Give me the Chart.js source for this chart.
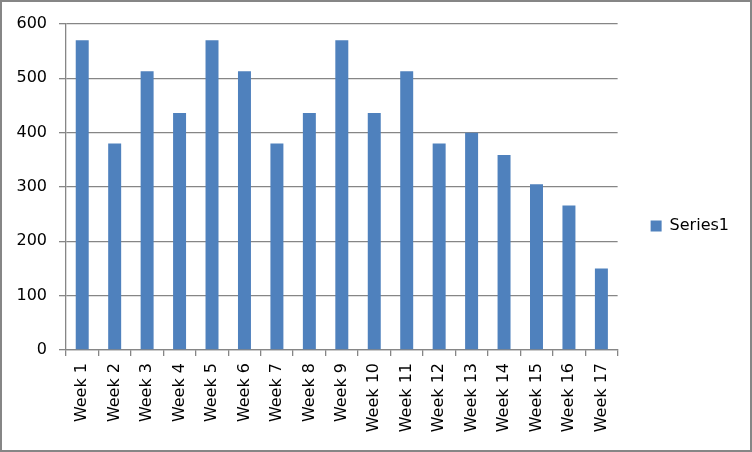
<!DOCTYPE html>
<html>
<head>
<meta charset="utf-8">
<script src="https://cdn.jsdelivr.net/npm/chart.js@4/dist/chart.umd.min.js"></script>
<style>
  html, body { margin: 0; padding: 0; background: #fff; }
  #wrap { width: 752px; height: 452px; position: relative; }
</style>
</head>
<body>
<div id="wrap"><canvas id="c" width="752" height="452"></canvas></div>
<script>
const categories = ["Week 1","Week 2","Week 3","Week 4","Week 5","Week 6","Week 7","Week 8","Week 9","Week 10","Week 11","Week 12","Week 13","Week 14","Week 15","Week 16","Week 17"];
const series1 = [570, 380, 513, 436, 570, 513, 380, 436, 570, 436, 513, 380, 400, 359, 305, 266, 150];
const seriesName = "Series1";
const yMin = 0, yMax = 600, yStep = 100;

const FONT = { family: "'DejaVu Sans', sans-serif", size: 16 };
const GRAY = '#868686';
const BAR = '#4F81BD';

const borderPlugin = {
  id: 'outerBorder',
  afterLayout(chart) {
    // centre the legend on the whole canvas height, like the original
    if (chart.legend) {
      chart.legend.top = 0;
      chart.legend.bottom = chart.height;
      chart.legend.height = chart.height;
    }
  },
  afterDraw(chart) {
    const ctx = chart.ctx;
    ctx.save();
    ctx.strokeStyle = GRAY;
    ctx.lineWidth = 2;
    ctx.strokeRect(1, 1, chart.width - 2, chart.height - 2);
    ctx.restore();
  }
};

new Chart(document.getElementById('c'), {
  type: 'bar',
  data: {
    labels: categories,
    datasets: [{
      label: seriesName,
      data: series1,
      backgroundColor: BAR,
      borderWidth: 0,
      barPercentage: 0.4,
      categoryPercentage: 1.0
    }]
  },
  options: {
    responsive: false,
    devicePixelRatio: 1,
    animation: false,
    layout: { padding: { top: 24, right: 13, bottom: 0, left: 0 } },
    plugins: {
      legend: {
        position: 'right',
        labels: {
          boxWidth: 11,
          boxHeight: 11,
          padding: 33,
          color: '#000',
          font: FONT
        }
      },
      tooltip: { enabled: false }
    },
    scales: {
      x: {
        offset: true,
        grid: {
          offset: true,
          drawOnChartArea: false,
          drawTicks: true,
          tickLength: 6,
          color: GRAY,
          lineWidth: 1.3
        },
        border: { display: true, color: GRAY, width: 1.3 },
        ticks: {
          autoSkip: false,
          minRotation: 90,
          maxRotation: 90,
          padding: 7,
          color: '#000',
          font: FONT
        },
        afterFit(scale) { scale.height = 102; }
      },
      y: {
        min: yMin,
        max: yMax,
        ticks: {
          stepSize: yStep,
          padding: 12,
          color: '#000',
          font: FONT
        },
        grid: {
          color: GRAY,
          lineWidth: 1.3,
          drawTicks: true,
          tickLength: 7
        },
        border: { display: true, color: GRAY, width: 1.3 },
        afterFit(scale) { scale.width = 66; }
      }
    }
  },
  plugins: [borderPlugin]
});
</script>
</body>
</html>
